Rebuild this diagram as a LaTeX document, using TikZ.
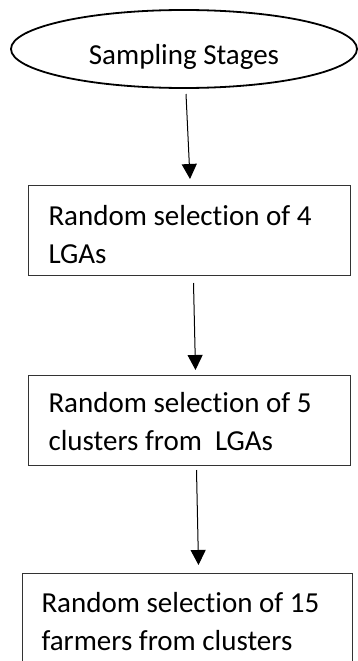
\documentclass[tikz,border=0pt]{standalone}
\usepackage{fontspec}
\setmainfont{Carlito}[Ligatures=NoCommon]
\usetikzlibrary{shapes.geometric,arrows.meta}
\newcommand{\boxtext}[3]{\raisebox{#1}[0pt][0pt]{\parbox[t]{#2}{\raggedright\fontsize{29}{38}\selectfont #3}}}
\begin{document}
\begin{tikzpicture}[x=1pt,y=1pt,
  stagebox/.style={draw=black!80, line width=1pt, rectangle, anchor=north west,
    minimum height=90pt, inner ysep=0pt},
  startell/.style={ellipse, minimum width=348pt,
    minimum height=78pt, inner sep=0pt, outer sep=0pt, font=\fontsize{29}{35}\selectfont},
  ellline/.style={draw=black, line width=1.8pt},
  flow/.style={draw=black, line width=1pt, -{Triangle[width=15pt,length=15pt]}}
]
\useasboundingbox (0,0) rectangle (358,-661);
\node[startell] (e) at (184,-49) {\raisebox{-16pt}[0pt][0pt]{Sampling Stages}};
\draw[ellline] (e.center) ellipse [x radius=173, y radius=39];
\node[stagebox, minimum width=322pt, inner xsep=20pt] (b1) at (28,-185)
  {\boxtext{5pt}{282pt}{Random selection of 4\\LGAs}};
\node[stagebox, minimum width=322pt, inner xsep=20pt] (b2) at (28,-375)
  {\boxtext{8pt}{282pt}{Random selection of 5\\clusters from\ \ LGAs}};
\node[stagebox, minimum width=330pt, inner xsep=19pt] (b3) at (22,-573)
  {\boxtext{6pt}{292pt}{Random selection of 15\\farmers from clusters}};
\draw[flow] ([xshift=2pt,yshift=-6pt]e.south) -- ([xshift=0.5pt,yshift=6pt]b1.north);
\draw[flow] ([xshift=4pt,yshift=-7pt]b1.south) -- ([xshift=6pt,yshift=5pt]b2.north);
\draw[flow] ([xshift=7pt,yshift=-4pt]b2.south) -- ([xshift=11pt,yshift=8pt]b3.north);
\end{tikzpicture}
\end{document}
